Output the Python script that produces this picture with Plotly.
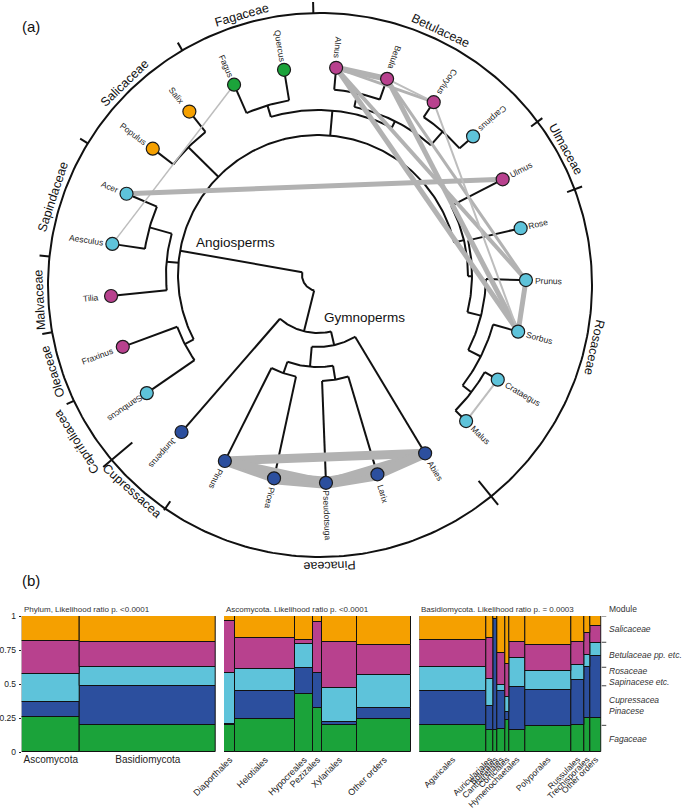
import math
import numpy as np
import plotly.graph_objects as go

# ======================= DATA =======================
# --- tree tips, clockwise from Abies ---
tip_order = ["Abies", "Larix", "Pseudotsuga", "Picea", "Pinus", "Juniperus",
             "Sambucus", "Fraxinus", "Tilia", "Aesculus", "Acer", "Populus",
             "Salix", "Fagus", "Quercus", "Alnus", "Betula", "Corylus",
             "Carpinus", "Ulmus", "Rose", "Prunus", "Sorbus", "Crataegus", "Malus"]
tip_module = ["Pinaceae"] * 6 + [
    "Rosaceae", "Betulaceae", "Betulaceae", "Rosaceae", "Rosaceae", "Salicaceae",
    "Salicaceae", "Fagaceae", "Fagaceae", "Betulaceae", "Betulaceae", "Betulaceae",
    "Rosaceae", "Betulaceae", "Rosaceae", "Rosaceae", "Rosaceae", "Rosaceae", "Rosaceae"]

# --- clades: r = node depth (px from tree centre), ch = children, a = stem angle ---
asterids = {"r": 150, "ch": ["Sambucus", "Fraxinus"]}
malvids = {"r": 152, "ch": ["Tilia", {"r": 175, "ch": ["Aesculus", "Acer"]}]}
salicales = {"r": 182, "ch": ["Populus", "Salix"]}
fagaceae = {"r": 177, "ch": ["Fagus", "Quercus"]}
betulaceae = {"r": 172, "ch": [{"r": 186, "ch": ["Alnus", "Betula"]},
                               {"r": 190, "ch": ["Corylus", "Carpinus"]}]}
fagales = {"r": 165, "ch": [fagaceae, betulaceae]}
maleae = {"r": 193, "ch": ["Crataegus", "Malus"]}
rosaceae = {"r": 154, "ch": ["Rose", {"r": 168, "ch": ["Prunus", {"r": 182, "ch": ["Sorbus", maleae]}]}]}
rosales = {"r": 150, "ch": ["Ulmus", rosaceae]}
angiosperms = {"r": 140, "a": -190, "ch": [asterids, malvids, salicales, fagales, rosales]}
pinaceae = {"r": 72, "ch": ["Abies", {"r": 92, "ch": [{"r": 106, "ch": ["Larix", "Pseudotsuga"]},
                                                    {"r": 104, "ch": ["Picea", "Pinus"]}]}]}
gymnosperms = {"r": 58, "ch": [pinaceae, "Juniperus"]}
root = {"r": 16, "ch": [angiosperms, gymnosperms]}

# --- shared-module links between hosts ---
link_from = ["Fagus", "Acer", "Alnus", "Alnus", "Betula", "Alnus", "Alnus", "Betula", "Betula",
             "Corylus", "Prunus", "Crataegus",
             "Pinus", "Pinus", "Picea", "Pseudotsuga", "Pseudotsuga", "Pinus", "Larix"]
link_to = ["Aesculus", "Ulmus", "Betula", "Corylus", "Corylus", "Sorbus", "Prunus", "Sorbus", "Prunus",
           "Sorbus", "Sorbus", "Malus",
           "Abies", "Picea", "Pseudotsuga", "Larix", "Abies", "Pseudotsuga", "Abies"]
link_width = [1.5, 5, 6, 3, 2, 5, 4, 5, 3,
              2, 5, 2,
              9, 9, 12, 12, 8, 8, 10]

# --- outer family ring ---
family_names = ["Fagaceae", "Betulaceae", "Ulmaceae", "Rosaceae", "Pinaceae", "Cupressacea",
                "Caprifoliacea", "Oleaceae", "Malvaceae", "Sapindaceae", "Salicaceae"]
family_angle = [106.1, 64.5, 29.0, -12.8, -88.0, -132.4, -147.3, -162.2, -177.0, 161.8, 134.0]
family_radius = [281, 281, 281, 281, 281, 279, 290, 281, 281, 281, 281]
family_rot = [None, None, None, None, None, 42, None, None, None, None, None]
boundary_angle = [91.4, 120.4, 148.6, 174.0, -170.0, -154.8, -140.0, -124.7, -51.0, 20.6, 36.9]
boundary_inner = [272, 272, 272, 272, 272, 272, 245, 263, 252, 264, 264]
boundary_outer = [283, 281, 281, 282, 282, 280, 283, 274, 283, 280, 278]

# --- modules (bottom -> top in mosaic) ---
module_names = ["Fagaceae", "Pinaceae", "Rosaceae", "Betulaceae", "Salicaceae"]
module_colors = ["#1ba33a", "#2c4f9e", "#5ec3da", "#b8418e", "#f5a000"]

# --- mosaic 1: phylum ---
phylum_names = ["Ascomycota", "Basidiomycota"]
phylum_sizes = [58, 136]
phylum_fag = [0.254, 0.196]
phylum_pin = [0.113, 0.291]
phylum_ros = [0.205, 0.136]
phylum_bet = [0.247, 0.184]
phylum_sal = [0.181, 0.193]

# --- mosaic 2: Ascomycota orders ---
asco_names = ["Diaporthales", "Helotiales", "Hypocreales", "Pezizales", "Xylariales", "Other orders"]
asco_sizes = [11.3, 60, 18, 8.4, 35.6, 53.7]
asco_fag = [0.196, 0.242, 0.425, 0.325, 0.196, 0.242]
asco_pin = [0.009, 0.208, 0.191, 0.254, 0.022, 0.083]
asco_ros = [0.374, 0.164, 0.176, 0.005, 0.251, 0.242]
asco_bet = [0.384, 0.222, 0.032, 0.370, 0.340, 0.220]
asco_sal = [0.037, 0.164, 0.176, 0.046, 0.191, 0.213]

# --- mosaic 3: Basidiomycota orders ---
basi_names = ["Agaricales", "Auriculariales", "Boletales", "Cantharellales", "Corticiales",
              "Hymenochaetales", "Polyporales", "Russulales", "Trechisporales", "Other orders"]
basi_sizes = [200, 22, 12, 23, 12, 48, 138, 40, 17, 35]
basi_fag = [0.200, 0.159, 0.160, 0.169, 0.232, 0.159, 0.188, 0.200, 0.249, 0.249]
basi_pin = [0.250, 0.176, 0.820, 0.283, 0.059, 0.318, 0.269, 0.331, 0.379, 0.460]
basi_ros = [0.178, 0.200, 0.000, 0.042, 0.112, 0.212, 0.135, 0.110, 0.086, 0.091]
basi_bet = [0.196, 0.301, 0.000, 0.232, 0.245, 0.123, 0.195, 0.171, 0.164, 0.127]
basi_sal = [0.176, 0.164, 0.020, 0.274, 0.352, 0.188, 0.213, 0.188, 0.122, 0.073]

# ======================= LAYOUT CONSTANTS =======================
W, H = 685, 810
TOP_H = 590
TREE_CX, TREE_CY = 318, 275
TIP_R = 208
TIP_A0, TIP_STEP = -59.0, 14.4
MARKER_R = 6.5
RING_CX, RING_CY, RING_R = 320, 285, 272
FONT = "Liberation Sans, Arial, sans-serif"

tip_angle = {n: TIP_A0 - TIP_STEP * k for k, n in enumerate(tip_order)}
mod_color = dict(zip(module_names, module_colors))


def pol(cx, cy, r, a):
    return cx + r * math.cos(math.radians(a)), cy - r * math.sin(math.radians(a))


def norm180(a):
    return (a + 180) % 360 - 180


tree_x, tree_y = [], []


def add_seg(pts):
    for p in pts:
        tree_x.append(p[0])
        tree_y.append(p[1])
    tree_x.append(None)
    tree_y.append(None)


def layout_node(node):
    """returns (angle, radius) of node and records drawing segments"""
    if isinstance(node, str):
        return tip_angle[node], TIP_R - MARKER_R
    kids = [layout_node(c) for c in node["ch"]]
    angs = [k[0] for k in kids]
    amin, amax = min(angs), max(angs)
    r = node["r"]
    n = max(2, int(abs(amax - amin)) + 2)
    add_seg([pol(TREE_CX, TREE_CY, r, a) for a in np.linspace(amin, amax, n)])
    for a, rr in kids:
        add_seg([pol(TREE_CX, TREE_CY, r, a), pol(TREE_CX, TREE_CY, rr, a)])
    ang = node.get("a", (amin + amax) / 2)
    return ang, r


layout_node(root)

fig = go.Figure()

# tree branches
fig.add_trace(go.Scatter(x=tree_x, y=tree_y, mode="lines",
                         line=dict(color="#111111", width=2),
                         hoverinfo="skip", showlegend=False, xaxis="x", yaxis="y"))

# outer ring
ring = [pol(RING_CX, RING_CY, RING_R, a) for a in np.linspace(0, 360, 361)]
tx = [p[0] for p in ring] + [None]
ty = [p[1] for p in ring] + [None]
for a, ri, ro in zip(boundary_angle, boundary_inner, boundary_outer):
    p1 = pol(RING_CX, RING_CY, ri, a)
    p2 = pol(RING_CX, RING_CY, ro, a)
    tx += [p1[0], p2[0], None]
    ty += [p1[1], p2[1], None]
fig.add_trace(go.Scatter(x=tx, y=ty, mode="lines", line=dict(color="#111111", width=2),
                         hoverinfo="skip", showlegend=False, xaxis="x", yaxis="y"))

# links
for a, b, w in zip(link_from, link_to, link_width):
    pa = pol(TREE_CX, TREE_CY, TIP_R, tip_angle[a])
    pb = pol(TREE_CX, TREE_CY, TIP_R, tip_angle[b])
    col = "#b2b2b2" if w >= 3 else "#bdbdbd"
    fig.add_trace(go.Scatter(x=[pa[0], pb[0]], y=[pa[1], pb[1]], mode="lines",
                             line=dict(color=col, width=w),
                             hoverinfo="skip", showlegend=False, xaxis="x", yaxis="y"))

# tip markers
mx, my, mc = [], [], []
for n, m in zip(tip_order, tip_module):
    p = pol(TREE_CX, TREE_CY, TIP_R, tip_angle[n])
    mx.append(p[0]); my.append(p[1]); mc.append(mod_color[m])
fig.add_trace(go.Scatter(x=mx, y=my, mode="markers",
                         marker=dict(size=13, color=mc, line=dict(color="#1a1a1a", width=1.2)),
                         text=tip_order, hoverinfo="text", showlegend=False, xaxis="x", yaxis="y"))

annotations = []
TIP_FS = 8.5
for n in tip_order:
    th = norm180(tip_angle[n])
    L = len(n) * TIP_FS * 0.5
    rc = TIP_R + MARKER_R + 3 + L / 2
    p = pol(TREE_CX, TREE_CY, rc, th)
    if -150 < th < 35:
        ang = norm180(-th)
    else:
        ang = norm180(180 - th)
    annotations.append(dict(x=p[0], y=p[1], xref="x", yref="y", text=n, showarrow=False,
                            textangle=ang, xanchor="center", yanchor="middle",
                            font=dict(size=TIP_FS, color="#222222", family=FONT)))

for n, a, r, rot in zip(family_names, family_angle, family_radius, family_rot):
    p = pol(RING_CX, RING_CY, r, a)
    ang = rot if rot is not None else norm180(90 - a)
    annotations.append(dict(x=p[0], y=p[1], xref="x", yref="y", text=n, showarrow=False,
                            textangle=ang, xanchor="center", yanchor="middle",
                            font=dict(size=12.5, color="#111111", family=FONT)))

annotations += [
    dict(x=235, y=242, xref="x", yref="y", text="Angiosperms", showarrow=False,
         font=dict(size=13.5, color="#111111", family=FONT)),
    dict(x=364, y=317, xref="x", yref="y", text="Gymnoperms", showarrow=False,
         font=dict(size=13.5, color="#111111", family=FONT)),
    dict(x=31, y=26, xref="x", yref="y", text="(a)", showarrow=False,
         font=dict(size=15, color="#111111", family=FONT)),
    dict(x=31, y=580, xref="x", yref="y", text="(b)", showarrow=False,
         font=dict(size=15, color="#111111", family=FONT)),
]

# ======================= MOSAICS =======================
def add_mosaic(names, sizes, shares, xa, ya):
    sizes = np.array(sizes, float)
    lefts = np.cumsum(sizes) - sizes
    centers = lefts + sizes / 2
    mat = np.array(shares, float)
    mat = mat / mat.sum(axis=0, keepdims=True)
    base = np.zeros(len(sizes))
    for m in range(mat.shape[0]):
        fig.add_trace(go.Bar(x=centers, y=mat[m], base=base.copy(), width=sizes,
                             marker=dict(color=module_colors[m], line=dict(color="#111111", width=1)),
                             name=module_names[m], showlegend=False, hoverinfo="skip",
                             xaxis=xa, yaxis=ya))
        base += mat[m]
    return centers, float(sizes.sum()), mat


def pxx(x):
    return x / W


def pxy(y):
    return 1 - y / H


Y_TOP, Y_BOT = 616, 752
ydom = [pxy(Y_BOT), pxy(Y_TOP)]

c1, t1, m1 = add_mosaic(phylum_names, phylum_sizes,
                        [phylum_fag, phylum_pin, phylum_ros, phylum_bet, phylum_sal], "x2", "y2")
c2, t2, m2 = add_mosaic(asco_names, asco_sizes,
                        [asco_fag, asco_pin, asco_ros, asco_bet, asco_sal], "x3", "y3")
c3, t3, m3 = add_mosaic(basi_names, basi_sizes,
                        [basi_fag, basi_pin, basi_ros, basi_bet, basi_sal], "x4", "y4")

ax_common = dict(showgrid=False, zeroline=False, showline=False, automargin=False)
layout = dict(
    width=W, height=H, margin=dict(l=0, r=0, t=0, b=0, pad=0), autosize=False,
    paper_bgcolor="white", plot_bgcolor="rgba(0,0,0,0)",
    barmode="overlay", bargap=0,
    xaxis=dict(range=[0, W], domain=[0, 1], visible=False, **ax_common),
    yaxis=dict(range=[TOP_H, 0], domain=[pxy(TOP_H), 1], visible=False, **ax_common),
    xaxis2=dict(range=[0, t1], domain=[pxx(21.7), pxx(216)], anchor="y2",
                tickvals=list(c1), ticktext=phylum_names, tickangle=0, ticks="",
                tickfont=dict(size=10, color="#222222", family=FONT), **ax_common),
    yaxis2=dict(range=[0, 1], domain=ydom, anchor="x2",
                tickvals=[0, 0.25, 0.5, 0.75, 1], ticktext=["0", "0.25", "0.5", "0.75", "1"],
                ticks="outside", ticklen=2, tickcolor="#222222", ticklabelstandoff=1,
                tickfont=dict(size=8.5, color="#222222", family=FONT), **ax_common),
    xaxis3=dict(range=[0, t2], domain=[pxx(224), pxx(411)], anchor="y3",
                tickvals=list(c2), ticktext=asco_names, tickangle=-45, ticks="",
                tickfont=dict(size=9, color="#222222", family=FONT), **ax_common),
    yaxis3=dict(range=[0, 1], domain=ydom, anchor="x3", showticklabels=False, ticks="", **ax_common),
    xaxis4=dict(range=[0, t3], domain=[pxx(419.3), pxx(601.7)], anchor="y4",
                tickvals=list(c3), ticktext=basi_names, tickangle=-45, ticks="",
                tickfont=dict(size=8.5, color="#222222", family=FONT), **ax_common),
    yaxis4=dict(range=[0, 1], domain=ydom, anchor="x4", showticklabels=False, ticks="", **ax_common),
)

# panel titles
titles = ["Phylum, Likelihood ratio p. <0.0001", "Ascomycota. Likelihood ratio p. <0.0001",
          "Basidiomycota. Likelihood ratio p. = 0.0003"]
for t, xa in zip(titles, ["x2", "x3", "x4"]):
    annotations.append(dict(x=0, y=1, xref=xa + " domain", yref="y2 domain", text=t,
                            showarrow=False, xanchor="left", yanchor="bottom", yshift=0,
                            font=dict(size=8, color="#333333", family=FONT)))

# right-hand module scale from Basidiomycota marginal
basi_col = m1[:, 1]
cum = np.concatenate([[0], np.cumsum(basi_col)])
shapes = []
for v in cum[1:]:
    shapes.append(dict(type="line", xref="x4 domain", yref="y4", x0=1.0, x1=1.025, y0=v, y1=v,
                       line=dict(color="#444444", width=1)))
right_labels = ["Fagaceae", "Cupressacea<br>Pinacese", "Rosaceae<br>Sapinacese etc.",
                "Betulaceae pp. etc.", "Salicaceae"]
for i, lab in enumerate(right_labels):
    annotations.append(dict(x=1.03, y=(cum[i] + cum[i + 1]) / 2, xref="x4 domain", yref="y4",
                            text="<i>" + lab + "</i>", showarrow=False, xanchor="left",
                            yanchor="middle", align="left",
                            font=dict(size=8.5, color="#333333", family=FONT)))
annotations.append(dict(x=1.03, y=1, xref="x4 domain", yref="y4", text="Module",
                        showarrow=False, xanchor="left", yanchor="bottom",
                        font=dict(size=8.5, color="#333333", family=FONT)))

layout["annotations"] = annotations
layout["shapes"] = shapes
fig.update_layout(**layout)

fig.write_html("out.html", config={"displayModeBar": False},
               post_script="document.body.style.margin='0px';document.body.style.overflow='hidden';")
